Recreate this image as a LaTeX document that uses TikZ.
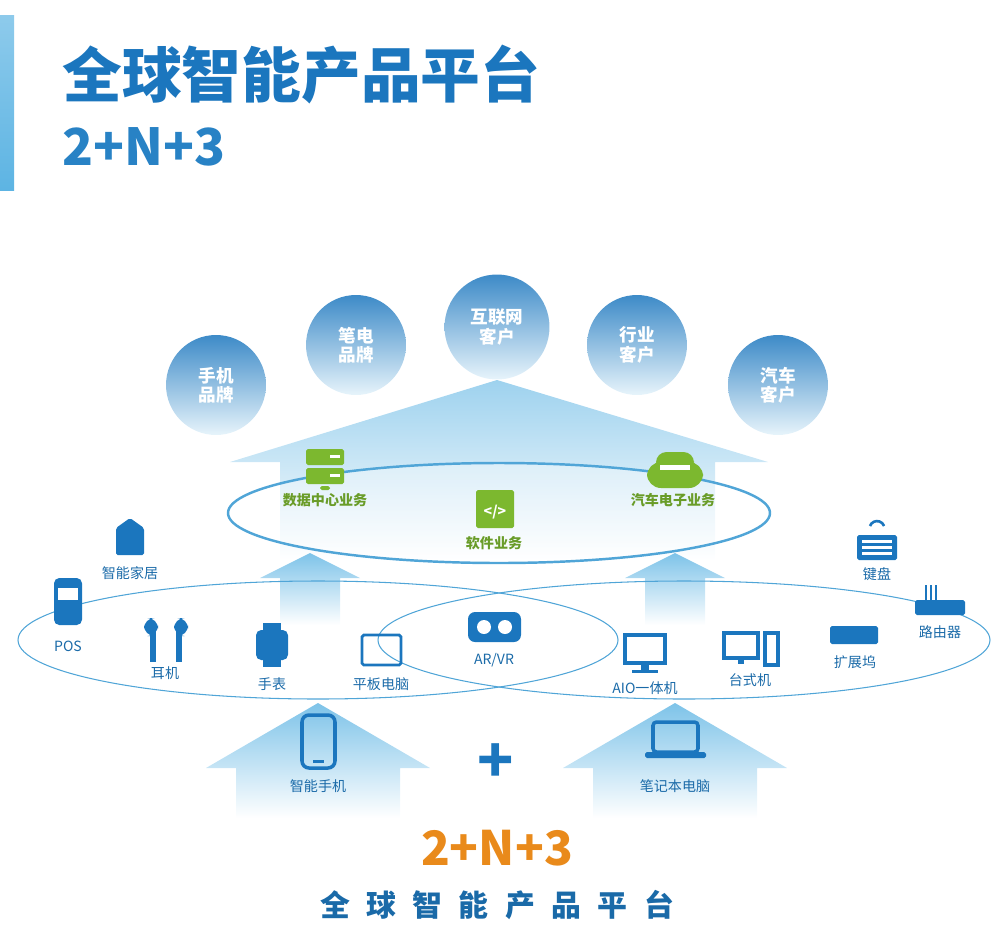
\documentclass[tikz,border=0pt]{standalone}
\usepackage{fontspec}
\setmainfont{Noto Sans CJK SC}
\usetikzlibrary{positioning,calc}
\definecolor{dblue}{HTML}{1A6AA8}
\definecolor{iblue}{HTML}{1B76BE}
\definecolor{lblue}{HTML}{5DB4E3}
\definecolor{igreen}{HTML}{7CB82F}
\definecolor{orng}{HTML}{E98A1B}
\tikzset{
  brand/.style={circle, minimum size=2cm, inner sep=0pt, top color=iblue!85, bottom color=lblue!15,
    text=white, font=\bfseries\fontsize{10}{11}\selectfont, align=center},
  lbl/.style={text=dblue, font=\fontsize{8}{9}\selectfont, inner sep=1pt},
  glbl/.style={text=igreen!85!black, font=\bfseries\fontsize{8}{9}\selectfont, inner sep=1pt},
  ring/.style={draw=lblue!80!dblue, line width=0.6pt},
  ibox/.style={fill=iblue, rounded corners=1pt},
  gbox/.style={fill=igreen, rounded corners=1pt},
}
\begin{document}
\begin{tikzpicture}[x=0.02cm,y=-0.02cm]
\useasboundingbox (0,0) rectangle (1008,951);
% title
\shade[top color=lblue!70, bottom color=lblue] (0,15) rectangle (14,190);
\node[anchor=west, text=iblue, font=\bfseries\fontsize{34}{36}\selectfont, inner sep=0pt] (ttl) at (62,75) {全球智能产品平台};
\node[anchor=west, text=iblue!80!lblue, font=\bfseries\fontsize{29}{31}\selectfont, inner sep=0pt] (ttl2) at (62,147) {2+N+3};
% big fading arrow behind brands
\shade[top color=lblue!60, bottom color=white] (497,380) -- (768,462) -- (715,462) -- (715,560) -- (280,560) -- (280,462) -- (230,462) -- cycle;
% brand circles
\node[brand] (phone) at (216,385) {手机\\品牌};
\node[brand] (note) at (356,345) {笔电\\品牌};
\node[brand, minimum size=2.1cm] (inet) at (497,327) {互联网\\客户};
\node[brand] (ind) at (637,345) {行业\\客户};
\node[brand] (car) at (778,385) {汽车\\客户};
% small up arrows
\foreach \cx in {310,675}{
  \shade[top color=lblue!80, bottom color=white] (\cx,553) -- (\cx+50,578) -- (\cx+30,578) -- (\cx+30,625) -- (\cx-30,625) -- (\cx-30,578) -- (\cx-50,578) -- cycle;
}
% big bottom arrows
\foreach \cx in {318,675}{
  \shade[top color=lblue!80, bottom color=white] (\cx,703) -- (\cx+112,768) -- (\cx+82,768) -- (\cx+82,818) -- (\cx-82,818) -- (\cx-82,768) -- (\cx-112,768) -- cycle;
}
% rings
\draw[ring] (318,640) ellipse (300 and 59);
\draw[ring] (684,640) ellipse (306 and 59);
\draw[ring, line width=1.4pt, fill=white, fill opacity=0.35] (499,513) ellipse (271 and 50);
% plus
\node[text=iblue, font=\bfseries\fontsize{34}{34}\selectfont, inner sep=0pt] (plus) at (496,763) {+};
% green business icons
\fill[gbox] (306,449) rectangle (344,465); \fill[gbox] (306,468) rectangle (344,484);
\fill[gbox] (320,486) rectangle (330,490);
\fill[white] (330,455) rectangle (340,458); \fill[white] (330,474) rectangle (340,477);
\node[glbl] (dc) at (325,500) {数据中心业务};
\fill[gbox] (476,490) rectangle (514,528);
\node[white, font=\bfseries\fontsize{8}{8}\selectfont, inner sep=0pt] at (495,512) {</>};
\node[glbl] (sw) at (494,543) {软件业务};
\fill[gbox, rounded corners=8pt] (647,462) rectangle (703,488);
\fill[gbox, rounded corners=6pt] (656,452) rectangle (694,472);
\fill[white] (660,465) rectangle (690,470);
\node[glbl] (ae) at (673,500) {汽车电子业务};
% blue device icons
\fill[ibox] (116,528) -- (130,518) -- (144,528) -- (144,555) -- (116,555) -- cycle;
\node[lbl] (home) at (130,573) {智能家居};
\fill[ibox, rounded corners=3pt] (54,578) rectangle (82,625);
\fill[white] (58,588) rectangle (78,600);
\node[lbl] (pos) at (68,646) {POS};
\fill[ibox, rounded corners=6pt] (144,618) rectangle (158,636); \fill[iblue] (150,630) rectangle (156,662);
\fill[ibox, rounded corners=6pt] (174,618) rectangle (188,636); \fill[iblue] (176,630) rectangle (182,662);
\node[lbl] (ear) at (165,673) {耳机};
\fill[ibox, rounded corners=3pt] (256,630) rectangle (288,660);
\fill[iblue] (263,623) rectangle (281,667);
\node[lbl] (watch) at (272,684) {手表};
\draw[iblue, line width=1.6pt, rounded corners=1pt] (362,635) rectangle (401,665);
\node[lbl] (pad) at (381,684) {平板电脑};
\fill[ibox, rounded corners=4pt] (468,612) rectangle (521,642);
\fill[white] (484,627) circle (7); \fill[white] (505,627) circle (7);
\node[lbl] (arvr) at (494,660) {AR/VR};
\draw[iblue, line width=2pt] (625,635) rectangle (665,663); \fill[iblue] (641,663) rectangle (649,670); \fill[iblue] (632,670) rectangle (658,673);
\node[lbl] (aio) at (645,688) {AIO一体机};
\draw[iblue, line width=2pt] (724,633) rectangle (758,658); \fill[iblue] (738,658) rectangle (744,664);
\draw[iblue, line width=2pt] (765,633) rectangle (778,665);
\node[lbl] (desk) at (750,680) {台式机};
\fill[ibox] (830,626) rectangle (878,644);
\node[lbl] (dock) at (855,662) {扩展坞};
\fill[ibox] (857,535) rectangle (897,560);
\foreach \i in {0,1,2} \fill[white] (862,540+6*\i) rectangle (892,543+6*\i);
\draw[iblue, line width=1.5pt] (870,526) arc (200:340:7.5);
\node[lbl] (kbd) at (877,574) {键盘};
\fill[ibox] (915,600) rectangle (965,615);
\foreach \i in {0,1,2} \fill[iblue] (925+5*\i,585) rectangle (927+5*\i,600);
\node[lbl] (rtr) at (940,632) {路由器};
% bottom devices
\draw[iblue, line width=2pt, rounded corners=4pt] (302,715) rectangle (335,768);
\fill[iblue] (313,760) rectangle (324,763);
\node[lbl] (smart) at (318,786) {智能手机};
\draw[iblue, line width=2pt, rounded corners=2pt] (653,722) rectangle (698,752);
\fill[ibox] (645,752) rectangle (706,758);
\node[lbl] (nb) at (675,786) {笔记本电脑};
% bottom title
\node[text=orng, font=\bfseries\fontsize{27}{29}\selectfont, inner sep=0pt] (sub) at (497,848) {2+N+3};
\node[text=dblue, font=\bfseries\fontsize{17}{19}\selectfont, inner sep=0pt] (sub2) at (497,905) {全\hspace{0.55em}球\hspace{0.55em}智\hspace{0.55em}能\hspace{0.55em}产\hspace{0.55em}品\hspace{0.55em}平\hspace{0.55em}台};
\end{tikzpicture}
\end{document}
